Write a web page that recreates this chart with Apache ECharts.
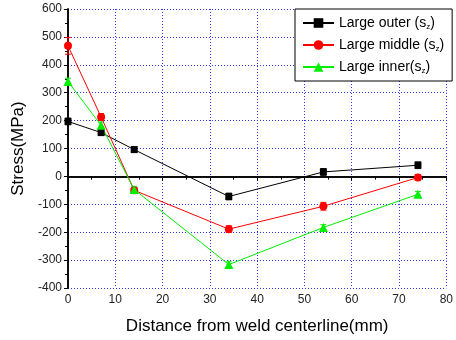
<!DOCTYPE html>
<html><head><meta charset="utf-8">
<script src="https://cdn.jsdelivr.net/npm/echarts@6/dist/echarts.min.js"></script>
<style>html,body{margin:0;padding:0;background:#fff}#c{width:456px;height:340px}</style>
</head><body><div id="c"></div>
<script>
var xValues = [0, 7, 14, 34, 54, 74];
var outerVals = [197, 157, 96, -72, 16, 40];
var middleVals = [468, 213, -50, -189, -107, -4];
var innerVals = [340, 183, -47, -316, -183, -64];
var outerErr = [12, 10, 10, 12, 12, 12];
var middleErr = [30, 12, 10, 12, 14, 10];
var innerErr = [12, 12, 10, 10, 10, 10];
var seriesNames = ['Large outer (s{sub|z})', 'Large middle (s{sub|z})', 'Large inner(s{sub|z})'];
var xTicks = [0, 10, 20, 30, 40, 50, 60, 70, 80];
var yTicks = [-400, -300, -200, -100, 0, 100, 200, 300, 400, 500, 600];

function pairs(v){ return xValues.map(function(x,i){ return [x, v[i]]; }); }
function errData(v,e){ return xValues.map(function(x,i){ return [x, v[i], e[i]]; }); }
function errSeries(v,e,color){
  return {
    type:'custom', silent:true, z:1, data: errData(v,e), encode:{x:0,y:1},
    renderItem:function(params, api){
      var x=api.value(0), y=api.value(1), er=api.value(2);
      var hi=api.coord([x,y+er]), lo=api.coord([x,y-er]);
      var w=3;
      return {type:'group', children:[
        {type:'line', shape:{x1:hi[0],y1:hi[1],x2:lo[0],y2:lo[1]}, style:{stroke:color,lineWidth:1}},
        {type:'line', shape:{x1:hi[0]-w,y1:hi[1],x2:hi[0]+w,y2:hi[1]}, style:{stroke:color,lineWidth:1}},
        {type:'line', shape:{x1:lo[0]-w,y1:lo[1],x2:lo[0]+w,y2:lo[1]}, style:{stroke:color,lineWidth:1}}
      ]};
    }
  };
}
var font = 'Liberation Sans, Arial, sans-serif';
var chart = echarts.init(document.getElementById('c'));
var colors = ['#000000', '#ff0000', '#00ee00'];
chart.setOption({
  animation:false,
  textStyle:{fontFamily:font},
  grid:{left:68, right:6, top:9, bottom:51},
  legend:{
    orient:'vertical', left:295, top:9, width:140,
    backgroundColor:'#fff', borderColor:'#000', borderWidth:1,
    padding:[7,8,6,7], itemGap:7, itemWidth:31, itemHeight:12,
    data: seriesNames,
    textStyle:{fontFamily:font, fontSize:14, color:'#000',
      rich:{sub:{fontSize:8, fontFamily:font, color:'#000', verticalAlign:'bottom', padding:[8,0,0,0]}}}
  },
  xAxis:[{
    type:'value', min:0, max:80, interval:10,
    name:'Distance from weld centerline(mm)', nameLocation:'middle', nameGap:30,
    nameTextStyle:{fontSize:17, color:'#000', fontFamily:font},
    axisLine:{lineStyle:{color:'#000', width:1.5}},
    axisTick:{inside:false, length:4, lineStyle:{color:'#000'}},
    minorTick:{show:true, splitNumber:2, length:3, lineStyle:{color:'#000'}},
    axisLabel:{fontSize:12, color:'#222', margin:6},
    splitLine:{show:true, lineStyle:{color:'#3333ff', type:[1,2], width:1}}
  },{
    type:'value', min:0, max:80, interval:10, position:'top',
    axisLine:{lineStyle:{color:'#000', width:1.5}},
    axisTick:{inside:true, length:4, lineStyle:{color:'#000'}},
    minorTick:{show:true, splitNumber:2, length:3, lineStyle:{color:'#000'}},
    axisLabel:{show:false}, splitLine:{show:false}
  }],
  yAxis:[{
    type:'value', min:-400, max:600, interval:100,
    name:'Stress(MPa)', nameLocation:'middle', nameGap:38, nameRotate:90,
    nameTextStyle:{fontSize:17, color:'#000', fontFamily:font},
    axisLine:{show:true, lineStyle:{color:'#000', width:1.5}},
    axisTick:{show:true, inside:false, length:4, lineStyle:{color:'#000'}},
    minorTick:{show:true, splitNumber:2, length:3, lineStyle:{color:'#000'}},
    axisLabel:{fontSize:12, color:'#222', margin:6},
    splitLine:{show:true, lineStyle:{color:'#3333ff', type:[1,2], width:1}}
  },{
    type:'value', min:-400, max:600, interval:100, position:'right',
    axisLine:{show:true, lineStyle:{color:'#000', width:1.5}},
    axisTick:{show:true, inside:true, length:4, lineStyle:{color:'#000'}},
    minorTick:{show:true, splitNumber:2, length:3, lineStyle:{color:'#000'}},
    axisLabel:{show:false}, splitLine:{show:false}
  }],
  series:[
    errSeries(outerVals, outerErr, colors[0]),
    errSeries(middleVals, middleErr, colors[1]),
    errSeries(innerVals, innerErr, colors[2]),
    {name:seriesNames[0], type:'line', data:pairs(outerVals), symbol:'rect', symbolSize:7,
     itemStyle:{color:colors[0]}, lineStyle:{color:colors[0], width:1}, z:3},
    {name:seriesNames[1], type:'line', data:pairs(middleVals), symbol:'circle', symbolSize:8,
     itemStyle:{color:colors[1]}, lineStyle:{color:colors[1], width:1}, z:3},
    {name:seriesNames[2], type:'line', data:pairs(innerVals), symbol:'triangle', symbolSize:9,
     itemStyle:{color:colors[2]}, lineStyle:{color:colors[2], width:1}, z:3}
  ]
});
</script></body></html>
